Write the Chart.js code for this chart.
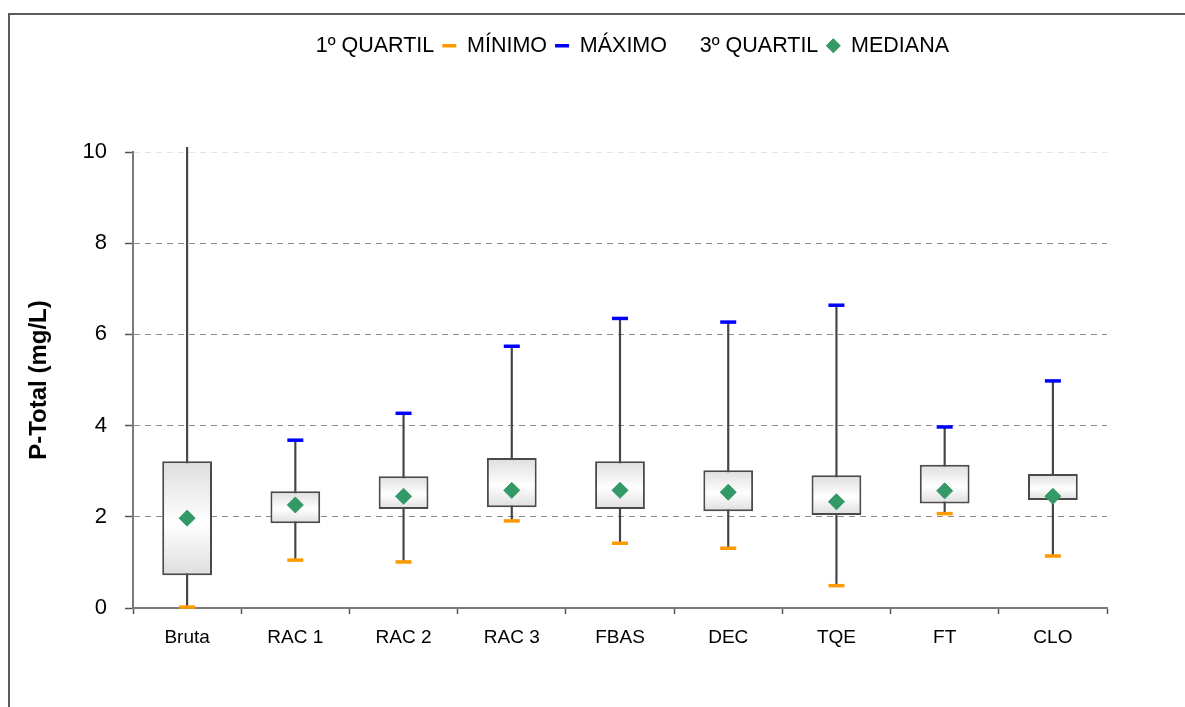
<!DOCTYPE html>
<html>
<head>
<meta charset="utf-8">
<script src="https://cdn.jsdelivr.net/npm/chart.js@4.4.1/dist/chart.umd.min.js"></script>
<style>
    html, body { margin: 0; padding: 0; background: #fff; }
    #wrap { width: 1185px; height: 707px; position: relative; }
</style>
</head>
<body>
<div id="wrap"><canvas id="boxChart"></canvas></div>
<script>
const categories = ['Bruta', 'RAC 1', 'RAC 2', 'RAC 3', 'FBAS', 'DEC', 'TQE', 'FT', 'CLO'];
const minimo  = [0.02, 1.05, 1.01, 1.91, 1.42, 1.31, 0.49, 2.07, 1.14];
const quartil1 = [0.72, 1.86, 2.17, 2.21, 2.17, 2.12, 2.04, 2.29, 2.37];
const mediana = [1.97, 2.26, 2.45, 2.58, 2.58, 2.54, 2.33, 2.57, 2.45];
const quartil3 = [3.22, 2.56, 2.89, 3.29, 3.22, 3.02, 2.91, 3.14, 2.94];
const maximo  = [10.5, 3.68, 4.27, 5.74, 6.35, 6.27, 6.64, 3.97, 4.98];
const yTicks = [0, 2, 4, 6, 8, 10];

const fontName = '"Liberation Sans", Arial, sans-serif';

function boxGradient(context) {
    const chart = context.chart;
    const y = chart.scales.y;
    if (!chart.chartArea || !y) return '#eeeeee';
    const i = context.dataIndex;
    const top = y.getPixelForValue(quartil3[i]);
    const bottom = y.getPixelForValue(quartil1[i]);
    const g = chart.ctx.createLinearGradient(0, top, 0, bottom);
    g.addColorStop(0, '#dedede');
    g.addColorStop(0.55, '#ffffff');
    g.addColorStop(1, '#dedede');
    return g;
}

// white background and the outer frame
const frame = {
    id: 'frame',
    beforeDraw(chart) {
        const ctx = chart.ctx;
        ctx.save();
        ctx.fillStyle = '#fff';
        ctx.fillRect(0, 0, chart.width, chart.height);
        ctx.strokeStyle = '#5a5a5a';
        ctx.lineWidth = 2;
        ctx.strokeRect(9, 14, chart.width + 20, chart.height + 20);
        ctx.restore();
    }
};

const noBox = 'rgba(0,0,0,0)';

new Chart(document.getElementById('boxChart'), {
    type: 'bar',
    data: {
        labels: categories,
        datasets: [{
            type: 'line',
            label: 'MEDIANA',
            data: mediana,
            showLine: false,
            pointStyle: 'rectRot',
            pointRadius: 8,
            pointBackgroundColor: '#339966',
            pointBorderColor: '#339966',
            pointBorderWidth: 1,
            clip: 6,
            order: 0
        }, {
            type: 'line',
            label: 'MÍNIMO',
            data: minimo,
            showLine: false,
            pointStyle: 'line',
            pointRadius: 8,
            pointBorderColor: '#ff9900',
            pointBorderWidth: 3.5,
            clip: 6,
            order: 1
        }, {
            type: 'line',
            label: 'MÁXIMO',
            data: maximo,
            showLine: false,
            pointStyle: 'line',
            pointRadius: 8,
            pointBorderColor: '#0000ff',
            pointBorderWidth: 3.5,
            clip: 3,
            order: 2
        }, {
            label: 'QUARTIS',
            data: categories.map((c, i) => [quartil1[i], quartil3[i]]),
            backgroundColor: boxGradient,
            borderColor: '#4a4a4a',
            borderWidth: 2,
            borderSkipped: false,
            grouped: false,
            categoryPercentage: 1,
            barPercentage: 0.46,
            order: 3
        }, {
            label: 'whisker',
            data: categories.map((c, i) => [minimo[i], maximo[i]]),
            backgroundColor: '#444',
            borderWidth: 0,
            grouped: false,
            barThickness: 1.5,
            clip: {left: 0, top: 5, right: 0, bottom: 0},
            order: 4
        }]
    },
    options: {
        responsive: true,
        maintainAspectRatio: false,
        animation: false,
        layout: {
            padding: {top: 27, left: 20, right: 78, bottom: 0}
        },
        plugins: {
            tooltip: {enabled: false},
            legend: {
                position: 'top',
                fullSize: false,
                labels: {
                    usePointStyle: true,
                    pointStyleWidth: 14,
                    boxHeight: 10,
                    padding: 8,
                    color: '#000',
                    font: {family: fontName, size: 21.5},
                    generateLabels: function () {
                        return [
                            {text: '1º QUARTIL', fillStyle: noBox, strokeStyle: noBox, lineWidth: 0, pointStyle: 'rect'},
                            {text: 'MÍNIMO', fillStyle: '#ff9900', strokeStyle: '#ff9900', lineWidth: 3.5, pointStyle: 'line'},
                            {text: 'MÁXIMO', fillStyle: '#0000ff', strokeStyle: '#0000ff', lineWidth: 3.5, pointStyle: 'line'},
                            {text: '3º QUARTIL', fillStyle: noBox, strokeStyle: noBox, lineWidth: 0, pointStyle: 'rect'},
                            {text: 'MEDIANA', fillStyle: '#339966', strokeStyle: '#339966', lineWidth: 1, pointStyle: 'rectRot'}
                        ];
                    }
                }
            },
            subtitle: {
                display: true,
                text: ' ',
                position: 'top',
                weight: 100,
                fullSize: false,
                padding: {top: 0, bottom: 73.5},
                font: {size: 10}
            }
        },
        scales: {
            x: {
                offset: true,
                afterFit: function (scale) { scale.height = 99; },
                grid: {
                    drawOnChartArea: false,
                    tickLength: 6,
                    tickColor: '#555',
                    tickWidth: 1.5
                },
                border: {color: '#7a7a7a', width: 2},
                ticks: {
                    color: '#000',
                    padding: 12,
                    font: {family: fontName, size: 19}
                }
            },
            y: {
                min: 0,
                max: 10,
                afterFit: function (scale) { scale.width = 113; },
                afterBuildTicks: function (scale) {
                    scale.ticks = yTicks.map(v => ({value: v}));
                },
                grid: {
                    color: function (ctx) {
                        if (ctx.tick.value === 0) return noBox;
                        if (ctx.tick.value === 10) return '#e4e4e4';
                        return '#8c8c8c';
                    },
                    lineWidth: 1,
                    tickLength: 8,
                    tickColor: '#555',
                    tickWidth: 1.5,
                    tickBorderDash: []
                },
                border: {color: '#7a7a7a', width: 2, dash: [6, 5]},
                ticks: {
                    color: '#000',
                    padding: 18,
                    font: {family: fontName, size: 22}
                },
                title: {
                    display: true,
                    text: 'P-Total (mg/L)',
                    color: '#000',
                    padding: {top: 5, bottom: 0},
                    font: {family: fontName, size: 24, weight: 'bold'}
                }
            }
        }
    },
    plugins: [frame]
});
</script>
</body>
</html>
